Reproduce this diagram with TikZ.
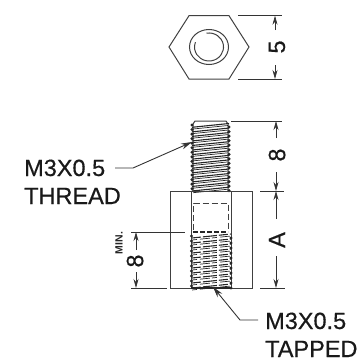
\documentclass[tikz,border=0pt]{standalone}
\usepackage{fontspec}
\setmainfont{Liberation Sans}
\newfontfamily\lblfont[RawFeature={embolden=0.5}]{Liberation Sans}
\usetikzlibrary{arrows.meta}
\tikzset{
 lbl/.style={font=\lblfont\fontsize{23.5}{24}\selectfont,inner sep=0pt,anchor=base west,text=black!90},
 dimtxt/.style={font=\lblfont\fontsize{23.5}{24}\selectfont,inner sep=0pt,rotate=90,text=black!90},
 part/.style={draw=black!75,line width=1pt},
 ext/.style={draw=black!80,line width=0.75pt},
 dimln/.style={draw=black!80,line width=0.75pt,-{Stealth[length=9pt,width=5pt]}},
 lead/.style={draw=black!80,line width=0.9pt,-{Stealth[length=11pt,width=6pt]}},
 thr/.style={draw=black!85,line width=1.1pt},
}
\begin{document}
\begin{tikzpicture}[x=1pt,y=-1pt]
\useasboundingbox (0,0) rectangle (362,364);
% hex view
\draw[part] (169,47)--(189,15.7)--(229,15.7)--(249,47)--(229,79)--(189,79)--cycle;
\draw[part] (209,47) ellipse [x radius=19.5,y radius=17.5];
\draw[part] (206.5,33.2) arc[start angle=-100,end angle=200,x radius=14.5,y radius=14];
% hex dim
\coordinate (h1) at (275,15.7); \coordinate (h2) at (275,79);
\draw[ext] (238,15.7)--(282,15.7) (238,79)--(282,79);
\node[dimtxt] (d5) at (277,47) {5};
\draw[dimln] (275,30)--(h1);
\draw[dimln] (275,65)--(h2);
% stud
\draw[part] (193,191)--(193,124)--(195,121)--(226,121)--(228,124)--(228,191);
\foreach \i in {0,...,14}{
 \pgfmathsetmacro{\y}{125+\i*4.55}
 \draw[thr] (192,\y+2.3)--(229,\y-1.5);
 \draw[thr,line width=.7pt] (193,\y+4)--(228,\y+0.5);
 \fill[black!85] (192,\y) circle (1.7) (229,\y+2) circle (1.7);
}
% body
\draw[part] (170,191) rectangle (252,288);
\draw[part] (191,191)--(191,288) (231,191)--(231,288);
\draw[part,dashed,dash pattern=on 6pt off 3pt] (193.5,230)--(193.5,203)--(228,203)--(228,230);
% tapped thread
\foreach \i in {0,...,10}{
 \pgfmathsetmacro{\y}{236+\i*5}
 \draw[thr,dash pattern=on 9pt off 2pt on 14pt off 2pt] (192,\y+2)--(231,\y-2);
 \draw[thr,line width=.7pt,dash pattern=on 5pt off 3pt on 10pt off 2pt] (192,\y+4)--(231,\y);
 \fill[black!85] (191.5,\y) circle (1.6) (231,\y+2) circle (1.6);
}
\draw[thr,dash pattern=on 5pt off 2pt] (193,232)--(228,232);
\draw[black!85,line width=1.8pt] (191,288)--(231,288);
% dims right
\coordinate (s1) at (276,121); \coordinate (s2) at (276,191); \coordinate (s3) at (276,288);
\draw[ext] (231,121)--(282,121) (260,191)--(284,191) (260,288)--(285,288);
\node[dimtxt] (d8) at (277,155) {8};
\node[dimtxt] (dA) at (277,240) {A};
\draw[dimln] (276,138)--(s1);
\draw[dimln] (276,172)--(s2);
\draw[dimln] (276,219)--(s2);
\draw[dimln] (276,256)--(s3);
% dims left
\coordinate (m1) at (136,232); \coordinate (m2) at (136,288);
\draw[ext] (131,232)--(185,232) (131,288)--(167,288);
\node[dimtxt] (dm) at (135,261) {8};
\node[font=\bfseries\fontsize{10.5}{11}\selectfont,inner sep=0pt,rotate=90,text=black!85] (mn) at (119,243) {MIN.};
\draw[dimln] (136,250)--(m1);
\draw[dimln] (136,272)--(m2);
% labels
\node[lbl] (t1) at (24,176) {M3X0.5};
\node[lbl] (t2) at (24,204) {THREAD};
\node[lbl] (t3) at (265,329) {M3X0.5};
\node[lbl] (t4) at (265,357) {TAPPED};
% leaders
\coordinate (a) at (115,168); \coordinate (b) at (133,168); \coordinate (c) at (192,142);
\draw[lead] (a)--(b)--(c);
\coordinate (e) at (258,320); \coordinate (f) at (240,320); \coordinate (g) at (213,287);
\draw[lead] (e)--(f)--(g);
\end{tikzpicture}
\end{document}
